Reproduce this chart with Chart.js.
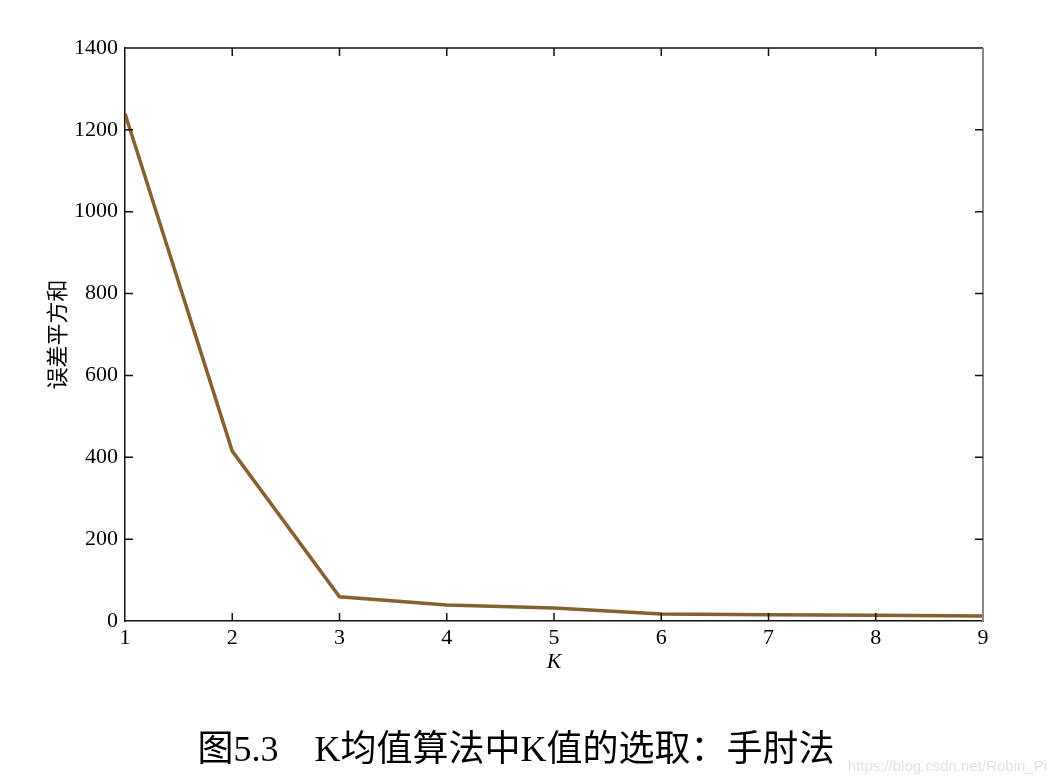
<!DOCTYPE html>
<html>
<head>
<meta charset="utf-8">
<script src="https://cdn.jsdelivr.net/npm/chart.js@4"></script>
<style>
  html, body { margin: 0; padding: 0; background: #fff; }
  #wrap { width: 1056px; height: 784px; }
</style>
</head>
<body>
<div id="wrap"><canvas id="elbow" width="1056" height="784"></canvas></div>
<script>
// K值与对应的误差平方和
const kValues = [1, 2, 3, 4, 5, 6, 7, 8, 9];
const sse = [1240, 415, 59, 39, 32, 17, 15, 14, 12];
const yTicks = [0, 200, 400, 600, 800, 1000, 1200, 1400];
const caption = '图5.3\u3000K均值算法中K值的选取：手肘法';
const watermark = 'https://blog.csdn.net/Robin_Pi';

const serif = '"Liberation Serif", "Times New Roman", "Noto Sans CJK SC", serif';

// 画框线、向内的刻度、图注和水印
const framePlugin = {
    id: 'frame',
    afterDraw(chart) {
        const ctx = chart.ctx;
        const a = chart.chartArea;
        const xs = chart.scales.x;
        const ys = chart.scales.y;
        ctx.save();
        ctx.lineWidth = 1.5;
        ctx.strokeStyle = '#111';
        ctx.beginPath();
        ctx.moveTo(a.left, a.top);
        ctx.lineTo(a.right, a.top);
        ctx.stroke();
        ctx.strokeStyle = '#888';
        ctx.lineWidth = 2;
        ctx.beginPath();
        ctx.moveTo(a.right, a.top);
        ctx.lineTo(a.right, a.bottom);
        ctx.stroke();

        ctx.strokeStyle = '#111';
        ctx.lineWidth = 1.5;
        const len = 8;
        kValues.forEach(k => {
            if (k === kValues[0] || k === kValues[kValues.length - 1]) return;
            const px = xs.getPixelForValue(k);
            ctx.beginPath();
            ctx.moveTo(px, a.bottom);
            ctx.lineTo(px, a.bottom - len);
            ctx.moveTo(px, a.top);
            ctx.lineTo(px, a.top + len);
            ctx.stroke();
        });
        yTicks.forEach(v => {
            if (v === yTicks[0] || v === yTicks[yTicks.length - 1]) return;
            const py = ys.getPixelForValue(v);
            ctx.beginPath();
            ctx.moveTo(a.left, py);
            ctx.lineTo(a.left + len, py);
            ctx.moveTo(a.right, py);
            ctx.lineTo(a.right - len, py);
            ctx.stroke();
        });

        ctx.fillStyle = '#000';
        ctx.font = '36px ' + serif;
        ctx.textAlign = 'center';
        ctx.textBaseline = 'middle';
        ctx.fillText(caption, 516, 752);

        ctx.fillStyle = '#e2e2e2';
        ctx.font = '15px "Liberation Sans", Arial, sans-serif';
        ctx.textAlign = 'right';
        ctx.fillText(watermark, 1047, 767);
        ctx.restore();
    }
};

const config = {
    type: 'line',
    data: {
        datasets: [{
            label: '误差平方和',
            data: kValues.map((k, i) => ({ x: k, y: sse[i] })),
            borderColor: '#86612f',
            borderWidth: 3.5,
            pointRadius: 0,
            tension: 0,
            fill: false
        }]
    },
    options: {
        responsive: false,
        animation: false,
        layout: {
            padding: { left: 42, right: 73, top: 48, bottom: 105 }
        },
        plugins: {
            legend: { display: false },
            tooltip: { enabled: false }
        },
        scales: {
            x: {
                type: 'linear',
                min: 1,
                max: 9,
                afterFit: function(scale) { scale.height = 58; },
                ticks: {
                    stepSize: 1,
                    color: '#000',
                    padding: 4,
                    maxRotation: 0,
                    font: { family: serif, size: 22 }
                },
                grid: { display: false, drawTicks: false },
                border: { display: true, color: '#111', width: 1.5 },
                title: {
                    display: true,
                    text: 'K',
                    color: '#000',
                    font: { family: serif, size: 22, style: 'italic' },
                    padding: { top: 0, bottom: 4 }
                }
            },
            y: {
                min: 0,
                max: 1400,
                afterFit: function(scale) { scale.width = 83; },
                afterBuildTicks: function(scale) {
                    scale.ticks = yTicks.map(v => ({ value: v }));
                },
                ticks: {
                    color: '#000',
                    padding: 7,
                    font: { family: serif, size: 22 },
                    callback: function(value) { return String(value); }
                },
                grid: { display: false, drawTicks: false },
                border: { display: true, color: '#111', width: 1.5 },
                title: {
                    display: true,
                    text: '误差平方和',
                    color: '#000',
                    font: { family: serif, size: 22 },
                    padding: { top: 4, bottom: 0 }
                }
            }
        }
    },
    plugins: [framePlugin]
};

new Chart(document.getElementById('elbow').getContext('2d'), config);
</script>
</body>
</html>
